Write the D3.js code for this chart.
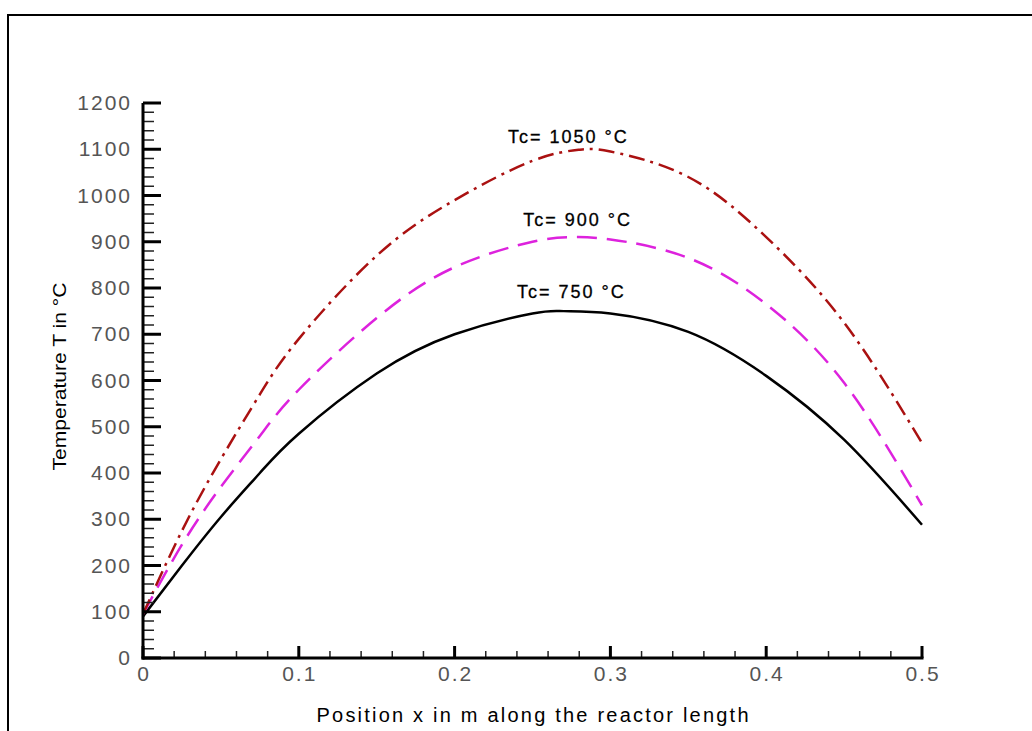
<!DOCTYPE html>
<meta charset="utf-8">
<style>
body { margin: 0; background: #fff; }
.tick-label { font-family: "Liberation Sans", Arial, sans-serif; fill: #555; font-size: 21px; letter-spacing: 2px; }
.title { font-family: "Liberation Sans", Arial, sans-serif; fill: #000; }
.curve-label { font-family: "Liberation Sans", Arial, sans-serif; fill: #000; font-size: 18px; letter-spacing: 2px; stroke: #000; stroke-width: 0.3px; }
</style>
<svg width="1032" height="731"></svg>
<script src="https://d3js.org/d3.v7.min.js"></script>
<script>

// position along the reactor, m  /  temperature, °C
var xs750 = [0, 0.025, 0.05, 0.075, 0.1, 0.15, 0.2, 0.25, 0.27, 0.3, 0.35, 0.4, 0.45, 0.5];
var t750  = [90, 200, 305, 400, 485, 615, 700, 745, 750, 745, 705, 610, 472, 288];

var xs900 = [0, 0.025, 0.05, 0.075, 0.1, 0.15, 0.2, 0.25, 0.275, 0.3, 0.35, 0.4, 0.45, 0.5];
var t900  = [95, 245, 370, 480, 580, 735, 845, 900, 910, 905, 865, 765, 595, 330];

var xs1050 = [0, 0.025, 0.05, 0.075, 0.1, 0.15, 0.2, 0.25, 0.28, 0.3, 0.35, 0.4, 0.45, 0.5];
var t1050  = [95, 275, 430, 570, 690, 870, 990, 1075, 1099, 1095, 1040, 910, 725, 465];

var labels = ["Tc= 750 °C", "Tc= 900 °C", "Tc= 1050 °C"];
var labelX = [0.275, 0.279, 0.273];
var labelT = [778, 934, 1113];

var xTicks = [0, 0.1, 0.2, 0.3, 0.4, 0.5];
var yTicks = [0, 100, 200, 300, 400, 500, 600, 700, 800, 900, 1000, 1100, 1200];

var svg = d3.select("svg");

// outer frame (runs off the right and bottom of the picture)
svg.append("rect")
    .attr("x", 8).attr("y", 15)
    .attr("width", 1100).attr("height", 800)
    .attr("fill", "none")
    .attr("stroke", "#000")
    .attr("stroke-width", 2);

var x = d3.scaleLinear().domain([0, 0.5]).range([143, 922]);
var y = d3.scaleLinear().domain([0, 1200]).range([658, 103]);

var line = d3.line()
    .x(function(d) { return x(d[0]); })
    .y(function(d) { return y(d[1]); })
    .curve(d3.curveNatural);

var series = [
  { xs: xs750, ts: t750, color: "#000", dash: null },
  { xs: xs900, ts: t900, color: "#dd22dd", dash: "20,10" },
  { xs: xs1050, ts: t1050, color: "#aa1111", dash: "16,6,3,6" }
];

svg.append("g").selectAll("path")
  .data(series)
  .enter().append("path")
    .attr("d", function(s) { return line(d3.zip(s.xs, s.ts)); })
    .attr("fill", "none")
    .attr("stroke", function(s) { return s.color; })
    .attr("stroke-width", 2.5)
    .attr("stroke-dasharray", function(s) { return s.dash; });

// axes: ticks point into the plot
var yMinor = d3.range(0, 1201, 20).filter(function(v) { return v % 100 != 0; });
var xMinor = d3.range(0, 51, 2).map(function(v) { return v / 100; }).filter(function(v) { return Math.round(v * 100) % 10 != 0; });

var ax = svg.append("g");

ax.selectAll(".ymin").data(yMinor).enter().append("line")
    .attr("x1", x(0)).attr("x2", x(0) + 11)
    .attr("y1", function(d) { return y(d); }).attr("y2", function(d) { return y(d); })
    .attr("stroke", "#222").attr("stroke-width", 1.5);

ax.selectAll(".ymaj").data(yTicks).enter().append("line")
    .attr("x1", x(0)).attr("x2", x(0) + 18)
    .attr("y1", function(d) { return y(d); }).attr("y2", function(d) { return y(d); })
    .attr("stroke", "#000").attr("stroke-width", 3);

ax.selectAll(".xmin").data(xMinor).enter().append("line")
    .attr("x1", function(d) { return x(d); }).attr("x2", function(d) { return x(d); })
    .attr("y1", y(0)).attr("y2", y(0) - 7)
    .attr("stroke", "#222").attr("stroke-width", 1.5);

ax.selectAll(".xmaj").data(xTicks).enter().append("line")
    .attr("x1", function(d) { return x(d); }).attr("x2", function(d) { return x(d); })
    .attr("y1", y(0)).attr("y2", y(0) - 12)
    .attr("stroke", "#000").attr("stroke-width", 3);

ax.append("line")
    .attr("x1", x(0)).attr("x2", x(0))
    .attr("y1", y(0) + 1.5).attr("y2", y(1200))
    .attr("stroke", "#000").attr("stroke-width", 3);

ax.append("line")
    .attr("x1", x(0) - 1.5).attr("x2", x(0.5) + 1.5)
    .attr("y1", y(0)).attr("y2", y(0))
    .attr("stroke", "#000").attr("stroke-width", 3);

ax.selectAll(".ylab").data(yTicks).enter().append("text")
    .attr("class", "tick-label")
    .attr("x", 132)
    .attr("y", function(d) { return y(d) + 7; })
    .attr("text-anchor", "end")
    .text(function(d) { return d; });

ax.selectAll(".xlab").data(xTicks).enter().append("text")
    .attr("class", "tick-label")
    .attr("x", function(d) { return x(d) + 1; })
    .attr("y", 681)
    .attr("text-anchor", "middle")
    .text(function(d) { return d; });

svg.append("text")
    .attr("class", "title")
    .attr("x", (x(0) + x(0.5)) / 2)
    .attr("y", 722)
    .attr("text-anchor", "middle")
    .attr("font-size", 20)
    .attr("textLength", 432)
    .attr("lengthAdjust", "spacing")
    .text("Position x in m along the reactor length");

svg.append("text")
    .attr("class", "title")
    .attr("transform", "translate(66," + (y(600) - 4) + ") rotate(-90)")
    .attr("text-anchor", "middle")
    .attr("font-size", 19)
    .attr("textLength", 188)
    .attr("lengthAdjust", "spacingAndGlyphs")
    .text("Temperature T in °C");

svg.append("g").selectAll("text")
  .data(labels)
  .enter().append("text")
    .attr("class", "curve-label")
    .attr("x", function(d, i) { return x(labelX[i]); })
    .attr("y", function(d, i) { return y(labelT[i]); })
    .attr("text-anchor", "middle")
    .text(function(d) { return d; });

</script>
